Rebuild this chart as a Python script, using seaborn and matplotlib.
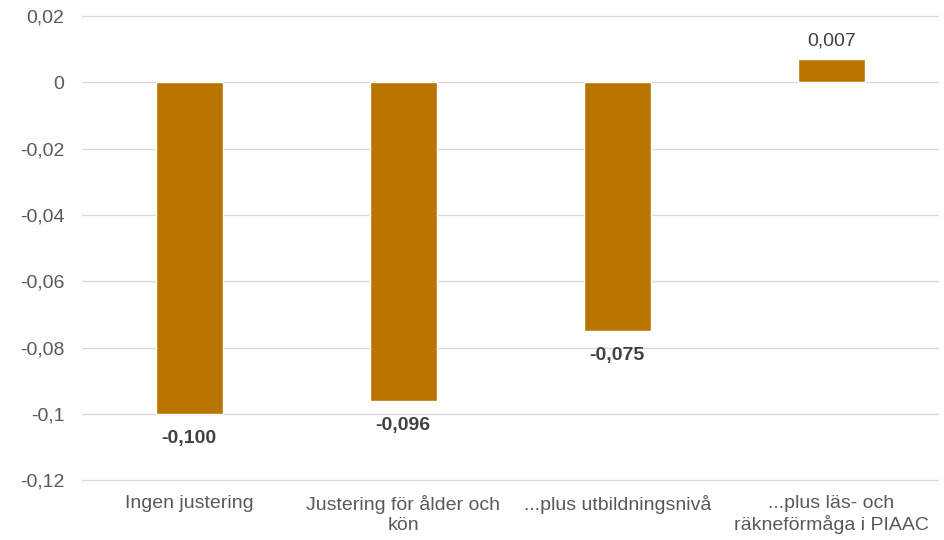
import matplotlib.pyplot as plt
import matplotlib.ticker as mticker
import pandas as pd
import seaborn as sns

categories = [
    "Ingen justering",
    "Justering för ålder och\nkön",
    "...plus utbildningsnivå",
    "...plus läs- och\nräkneförmåga i PIAAC",
]
values = [-0.100, -0.096, -0.075, 0.007]
value_labels = ["-0,100", "-0,096", "-0,075", "0,007"]

BAR_COLOR = "#BA7400"
TEXT_COLOR = "#595959"
LABEL_COLOR = "#404040"


def fmt_tick(v, pos):
    s = f"{v:.2f}".rstrip("0").rstrip(".")
    if s in ("-0", "0"):
        return "0"
    return s.replace(".", ",")


def main():
    sns.set_style("white")
    plt.rcParams["font.family"] = ["Liberation Sans", "DejaVu Sans"]

    df = pd.DataFrame({"category": categories, "value": values})

    fig = plt.figure(figsize=(9.45, 5.4), dpi=100)
    ax = fig.add_axes([0.087, 0.111, 0.906, 0.859])

    sns.barplot(df, x="category", y="value", color=BAR_COLOR, width=0.315,
                saturation=1, ax=ax)

    ax.set_ylim(-0.12, 0.02)
    ax.set_yticks([0.02, 0, -0.02, -0.04, -0.06, -0.08, -0.1, -0.12])
    ax.yaxis.set_major_formatter(mticker.FuncFormatter(fmt_tick))
    ax.grid(axis="y", color="#d9d9d9", linewidth=1)
    for line in ax.get_ygridlines():
        line.set_clip_on(False)
    ax.set_axisbelow(True)
    for s in ax.spines.values():
        s.set_visible(False)
    ax.tick_params(axis="both", length=0, labelsize=14, colors=TEXT_COLOR)
    ax.tick_params(axis="y", pad=13)
    ax.tick_params(axis="x", pad=11)
    ax.set(xlabel="", ylabel="")

    for i, (v, lab) in enumerate(zip(values, value_labels)):
        if v < 0:
            ax.annotate(lab, (i, v), xytext=(0, -11.5), textcoords="offset points",
                        ha="center", va="top", fontsize=14, fontweight="bold",
                        color=LABEL_COLOR)
        else:
            ax.annotate(lab, (i, v), xytext=(0, 7), textcoords="offset points",
                        ha="center", va="bottom", fontsize=14, color=LABEL_COLOR)

    fig.savefig("out.png", dpi=100)


if __name__ == "__main__":
    main()
